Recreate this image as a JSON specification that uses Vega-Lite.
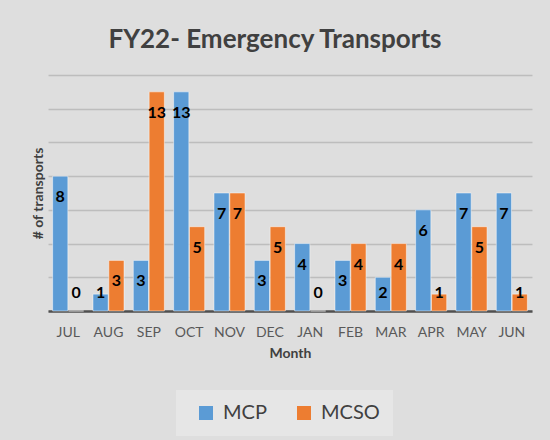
{
  "$schema": "https://vega.github.io/schema/vega-lite/v6.json",
  "width": 484,
  "height": 236,
  "autosize": {"type": "none"},
  "padding": {"left": 48, "top": 75, "right": 18, "bottom": 129},
  "background": "#dedede",
  "config": {
    "view": {"stroke": null},
    "font": "Lato"
  },
  "title": {
    "text": "FY22- Emergency Transports",
    "font": "Lato",
    "fontSize": 26,
    "fontWeight": "bold",
    "color": "#404040",
    "dx": -15,
    "offset": 22
  },
  "data": {
    "values": [
      {"month": "JUL", "agency": "MCP", "value": 8},
      {"month": "JUL", "agency": "MCSO", "value": 0},
      {"month": "AUG", "agency": "MCP", "value": 1},
      {"month": "AUG", "agency": "MCSO", "value": 3},
      {"month": "SEP", "agency": "MCP", "value": 3},
      {"month": "SEP", "agency": "MCSO", "value": 13},
      {"month": "OCT", "agency": "MCP", "value": 13},
      {"month": "OCT", "agency": "MCSO", "value": 5},
      {"month": "NOV", "agency": "MCP", "value": 7},
      {"month": "NOV", "agency": "MCSO", "value": 7},
      {"month": "DEC", "agency": "MCP", "value": 3},
      {"month": "DEC", "agency": "MCSO", "value": 5},
      {"month": "JAN", "agency": "MCP", "value": 4},
      {"month": "JAN", "agency": "MCSO", "value": 0},
      {"month": "FEB", "agency": "MCP", "value": 3},
      {"month": "FEB", "agency": "MCSO", "value": 4},
      {"month": "MAR", "agency": "MCP", "value": 2},
      {"month": "MAR", "agency": "MCSO", "value": 4},
      {"month": "APR", "agency": "MCP", "value": 6},
      {"month": "APR", "agency": "MCSO", "value": 1},
      {"month": "MAY", "agency": "MCP", "value": 7},
      {"month": "MAY", "agency": "MCSO", "value": 5},
      {"month": "JUN", "agency": "MCP", "value": 7},
      {"month": "JUN", "agency": "MCSO", "value": 1}
    ]
  },
  "encoding": {
    "x": {
      "field": "month",
      "type": "nominal",
      "sort": ["JUL", "AUG", "SEP", "OCT", "NOV", "DEC", "JAN", "FEB", "MAR", "APR", "MAY", "JUN"],
      "scale": {"paddingInner": 0.23, "paddingOuter": 0.115},
      "axis": {
        "title": "Month",
        "titleFont": "Lato",
        "titleFontSize": 14,
        "titleFontWeight": "bold",
        "titleColor": "#404040",
        "titlePadding": 7,
        "labelAngle": 0,
        "labelFont": "Lato",
        "labelFontSize": 14,
        "labelColor": "#595959",
        "labelPadding": 14,
        "ticks": false,
        "domainColor": "#505050",
        "domainWidth": 2.5
      }
    },
    "xOffset": {"field": "agency", "type": "nominal", "sort": ["MCP", "MCSO"], "scale": {"paddingInner": 0.04}}
  },
  "layer": [
    {
      "mark": {"type": "bar", "stroke": "#ffffff", "strokeWidth": 0.8, "strokeOpacity": 0.6},
      "encoding": {
        "y": {
          "field": "value",
          "type": "quantitative",
          "scale": {"domain": [0, 14]},
          "axis": {
            "title": "# of transports",
            "titleFont": "Lato",
            "titleFontSize": 14,
            "titleFontWeight": "bold",
            "titleColor": "#404040",
            "titlePadding": 3,
            "values": [0, 2, 4, 6, 8, 10, 12, 14],
            "labels": false,
            "ticks": false,
            "domain": false,
            "grid": true,
            "gridColor": "#bdbdbd",
            "gridWidth": 1.5
          }
        },
        "color": {
          "field": "agency",
          "type": "nominal",
          "scale": {"domain": ["MCP", "MCSO"], "range": ["#5b9bd5", "#ed7d31"]},
          "legend": {
            "title": null,
            "orient": "none",
            "legendX": 128,
            "legendY": 315,
            "direction": "horizontal",
            "fillColor": "#e6e6e6",
            "padding": 13,
            "symbolType": "square",
            "symbolSize": 196,
            "symbolStrokeWidth": 0,
            "symbolOffset": 7,
            "labelFont": "Lato",
            "labelFontSize": 20,
            "labelColor": "#404040",
            "labelOffset": 7,
            "columnPadding": 20
          }
        }
      }
    },
    {
      "mark": {"type": "text", "font": "Lato", "fontSize": 16, "fontWeight": "bold", "color": "#000000", "baseline": "middle", "dy": 21},
      "encoding": {
        "y": {
          "field": "value",
          "type": "quantitative",
          "scale": {"domain": [2.32, 14], "range": [196.9, 0], "clamp": true},
          "axis": null
        },
        "text": {"field": "value", "type": "quantitative"}
      }
    }
  ],
  "resolve": {"scale": {"y": "independent"}}
}
